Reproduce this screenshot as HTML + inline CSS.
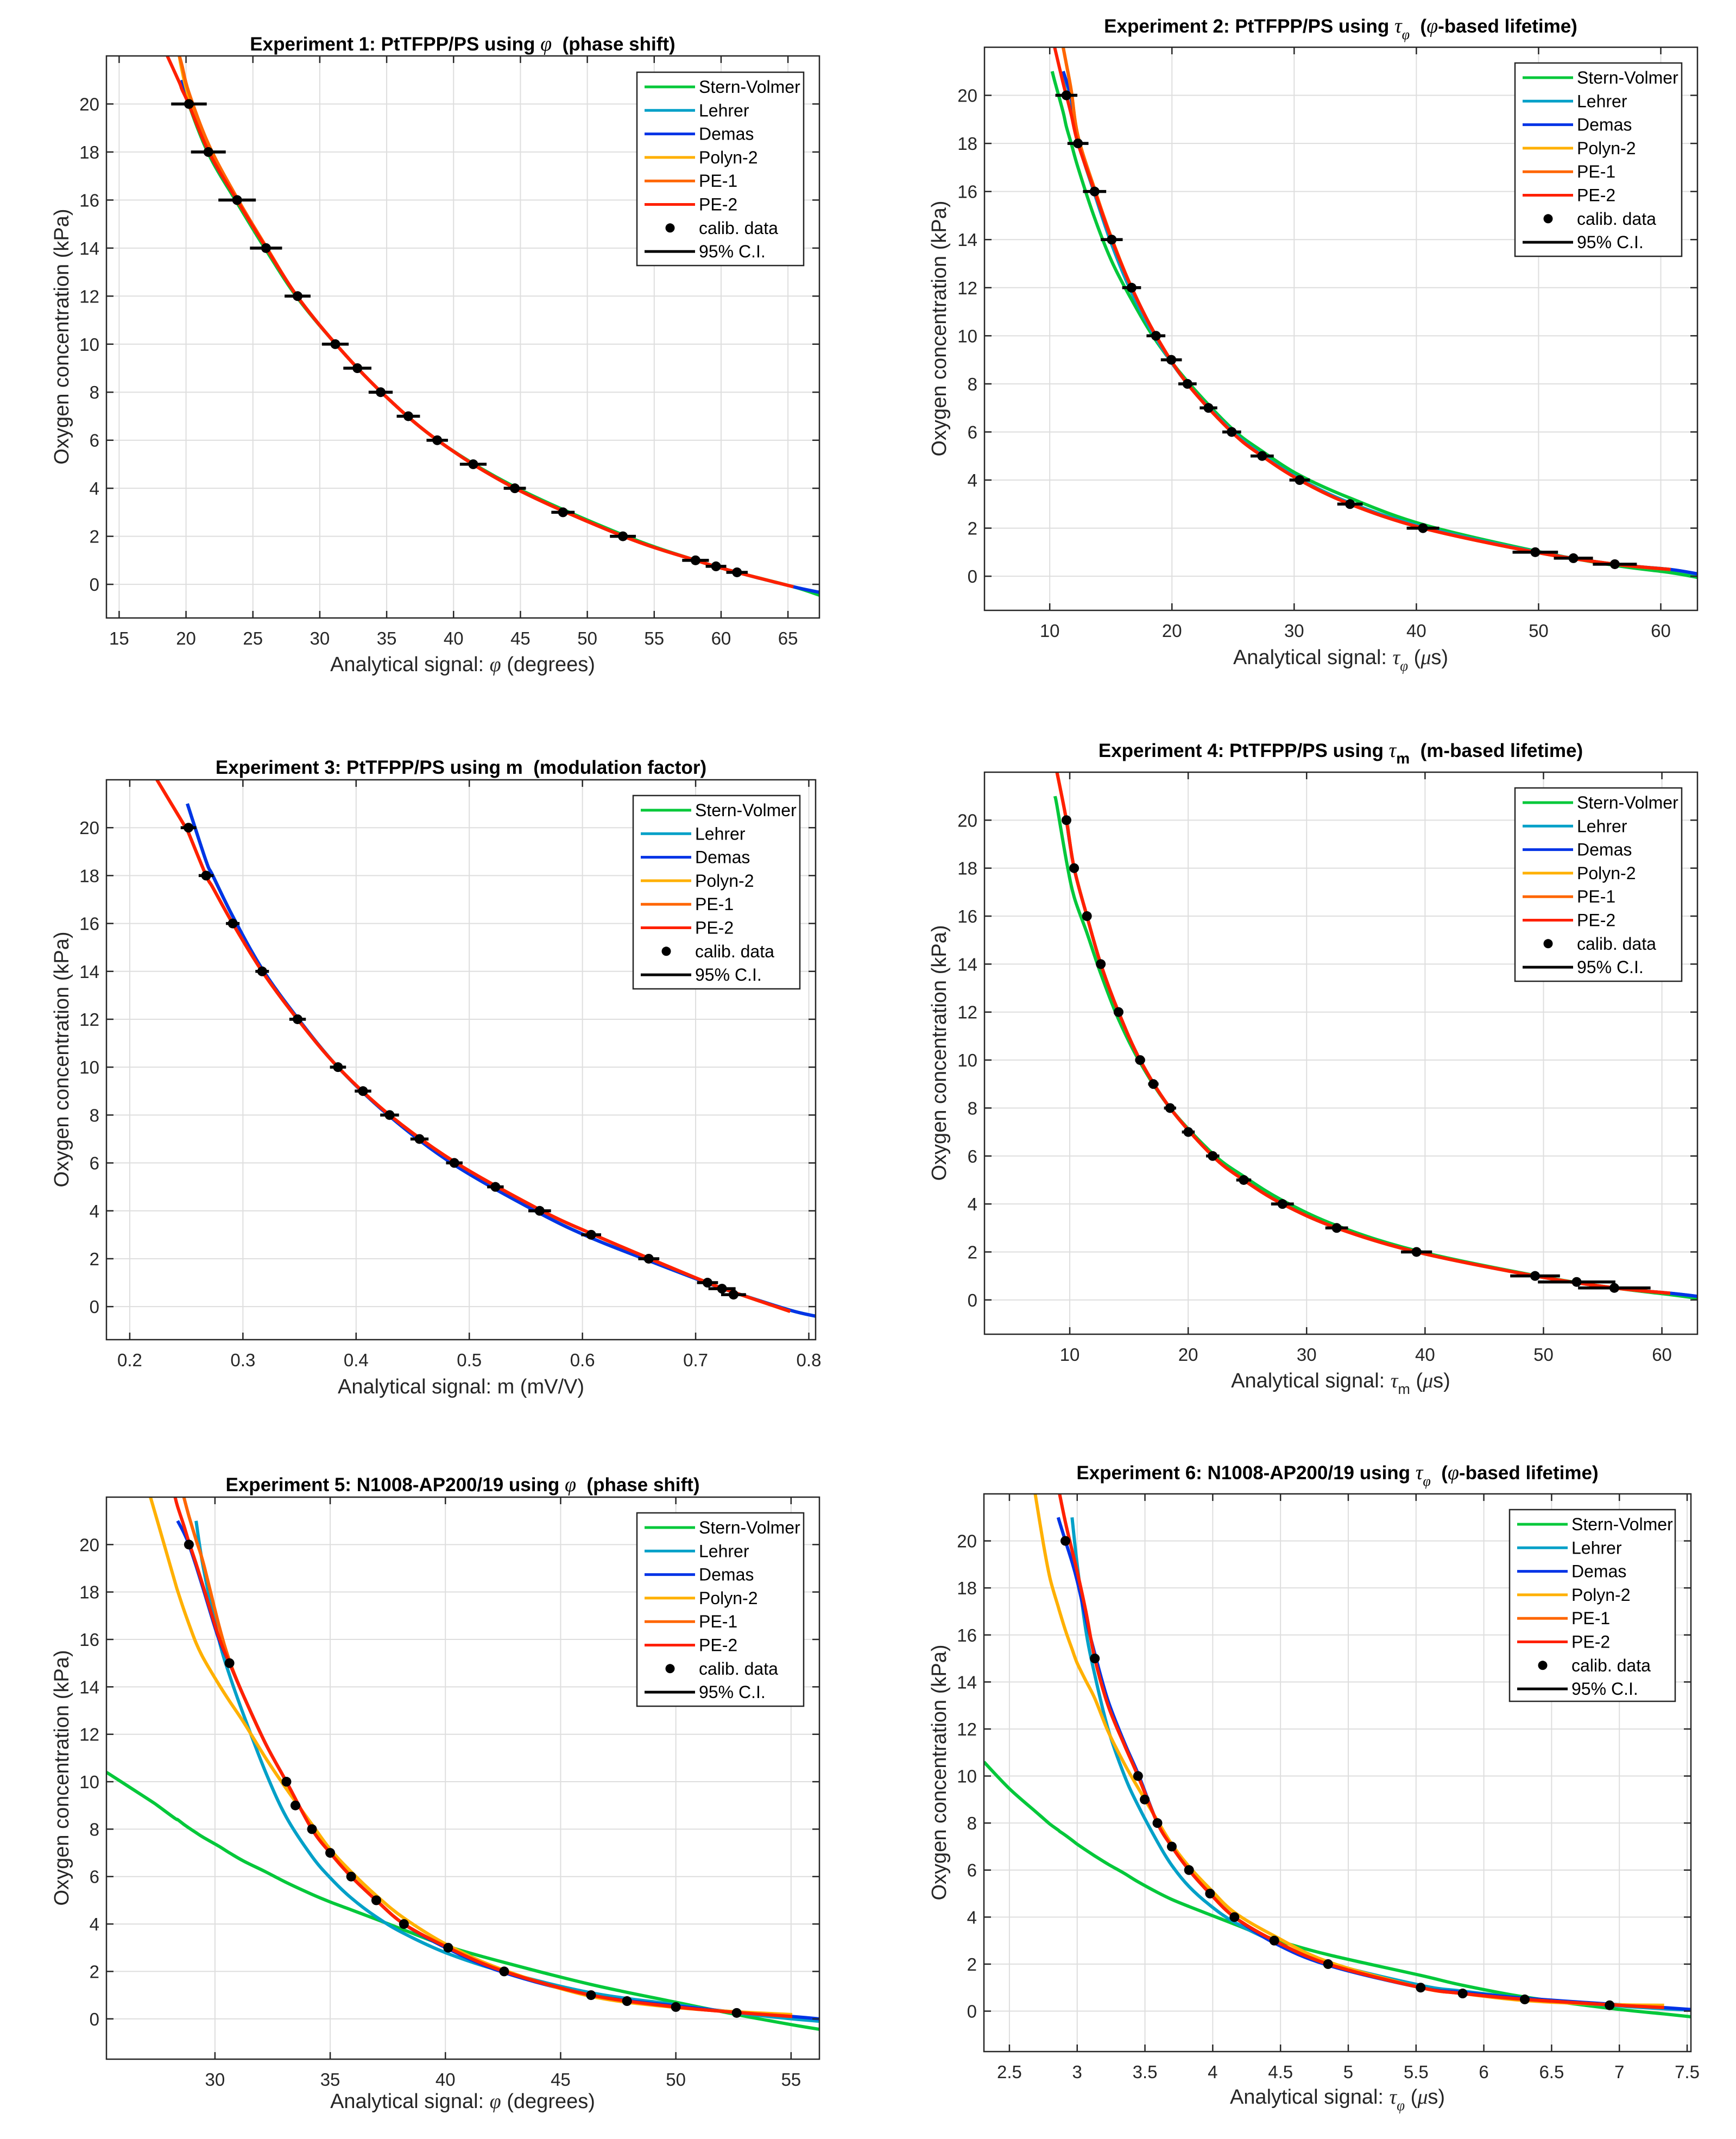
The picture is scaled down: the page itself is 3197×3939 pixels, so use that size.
<!DOCTYPE html>
<html><head><meta charset="utf-8"><title>Oxygen calibration experiments</title>
<style>
html,body{margin:0;padding:0;background:#fff;}
svg{display:block;}
.ttl{font-family:"Liberation Sans",sans-serif;font-weight:bold;font-size:35px;fill:#000;}
.axl{font-family:"Liberation Sans",sans-serif;font-size:38px;fill:#262626;}
.gk{font-family:"Liberation Serif",serif;font-style:italic;}
.lg{font-family:"Liberation Sans",sans-serif;font-size:32px;fill:#000;}
.tk{font-family:"Liberation Sans",sans-serif;font-size:33px;fill:#262626;}
</style></head>
<body>
<svg id="fig" xmlns="http://www.w3.org/2000/svg" width="3197" height="3939" viewBox="0 0 3197 3939">
<rect x="0" y="0" width="3197" height="3939" fill="#fff"/>

<!-- Titles -->
<text class="ttl" x="852" y="93" text-anchor="middle" xml:space="preserve">Experiment 1: PtTFPP/PS using <tspan class="gk" font-weight="normal" font-size="38">φ</tspan>  (phase shift)</text>
<text class="ttl" x="2469" y="60" text-anchor="middle" xml:space="preserve">Experiment 2: PtTFPP/PS using <tspan class="gk" font-weight="normal" font-size="38">τ</tspan><tspan class="gk" font-weight="normal" font-size="26" dy="12">φ</tspan><tspan dy="-12">  (</tspan><tspan class="gk" font-weight="normal" font-size="38">φ</tspan>-based lifetime)</text>
<text class="ttl" x="849" y="1425" text-anchor="middle" xml:space="preserve">Experiment 3: PtTFPP/PS using m  (modulation factor)</text>
<text class="ttl" x="2469" y="1394" text-anchor="middle" xml:space="preserve">Experiment 4: PtTFPP/PS using <tspan class="gk" font-weight="normal" font-size="38">τ</tspan><tspan font-size="28" dy="12">m</tspan><tspan dy="-12">  (m-based lifetime)</tspan></text>
<text class="ttl" x="852" y="2746" text-anchor="middle" xml:space="preserve">Experiment 5: N1008-AP200/19 using <tspan class="gk" font-weight="normal" font-size="38">φ</tspan>  (phase shift)</text>
<text class="ttl" x="2463" y="2724" text-anchor="middle" xml:space="preserve">Experiment 6: N1008-AP200/19 using <tspan class="gk" font-weight="normal" font-size="38">τ</tspan><tspan class="gk" font-weight="normal" font-size="26" dy="12">φ</tspan><tspan dy="-12">  (</tspan><tspan class="gk" font-weight="normal" font-size="38">φ</tspan>-based lifetime)</text>

<!-- X axis labels -->
<text class="axl" x="852" y="1236" text-anchor="middle">Analytical signal: <tspan class="gk">φ</tspan> (degrees)</text>
<text class="axl" x="2469" y="1223" text-anchor="middle">Analytical signal: <tspan class="gk">τ</tspan><tspan class="gk" font-size="27" dy="12">φ</tspan><tspan dy="-12"> (</tspan><tspan class="gk">μ</tspan>s)</text>
<text class="axl" x="849" y="2566" text-anchor="middle">Analytical signal: m (mV/V)</text>
<text class="axl" x="2469" y="2555" text-anchor="middle">Analytical signal: <tspan class="gk">τ</tspan><tspan font-size="27" dy="12">m</tspan><tspan dy="-12"> (</tspan><tspan class="gk">μ</tspan>s)</text>
<text class="axl" x="852" y="3882" text-anchor="middle">Analytical signal: <tspan class="gk">φ</tspan> (degrees)</text>
<text class="axl" x="2463" y="3874" text-anchor="middle">Analytical signal: <tspan class="gk">τ</tspan><tspan class="gk" font-size="27" dy="12">φ</tspan><tspan dy="-12"> (</tspan><tspan class="gk">μ</tspan>s)</text>

<!-- Y axis labels -->
<text class="axl" transform="translate(126,620) rotate(-90)" text-anchor="middle">Oxygen concentration (kPa)</text>
<text class="axl" transform="translate(1742,605) rotate(-90)" text-anchor="middle">Oxygen concentration (kPa)</text>
<text class="axl" transform="translate(126,1951) rotate(-90)" text-anchor="middle">Oxygen concentration (kPa)</text>
<text class="axl" transform="translate(1742,1939) rotate(-90)" text-anchor="middle">Oxygen concentration (kPa)</text>
<text class="axl" transform="translate(126,3274) rotate(-90)" text-anchor="middle">Oxygen concentration (kPa)</text>
<text class="axl" transform="translate(1742,3264) rotate(-90)" text-anchor="middle">Oxygen concentration (kPa)</text>

<g id="plots"></g>

<!-- Legends -->
<g id="legend1" transform="translate(1173,133)">
<rect x="0" y="0" width="307" height="356" fill="#fff" stroke="#262626" stroke-width="2.5"/>
<line x1="14" x2="107" y1="27" y2="27" stroke="#03c83a" stroke-width="5"/><text class="lg" x="114" y="38">Stern-Volmer</text>
<line x1="14" x2="107" y1="70.3" y2="70.3" stroke="#00a0c8" stroke-width="5"/><text class="lg" x="114" y="81.3">Lehrer</text>
<line x1="14" x2="107" y1="113.6" y2="113.6" stroke="#0033e6" stroke-width="5"/><text class="lg" x="114" y="124.6">Demas</text>
<line x1="14" x2="107" y1="156.9" y2="156.9" stroke="#ffb000" stroke-width="5"/><text class="lg" x="114" y="167.9">Polyn-2</text>
<line x1="14" x2="107" y1="200.2" y2="200.2" stroke="#ff6600" stroke-width="5"/><text class="lg" x="114" y="211.2">PE-1</text>
<line x1="14" x2="107" y1="243.5" y2="243.5" stroke="#ff2000" stroke-width="5"/><text class="lg" x="114" y="254.5">PE-2</text>
<circle cx="61" cy="286.8" r="8.5" fill="#000"/><text class="lg" x="114" y="297.8">calib. data</text>
<line x1="14" x2="107" y1="330.1" y2="330.1" stroke="#000" stroke-width="5"/><text class="lg" x="114" y="341.1">95% C.I.</text>
</g>
<g id="legend2" transform="translate(2790,116)">
<rect x="0" y="0" width="307" height="356" fill="#fff" stroke="#262626" stroke-width="2.5"/>
<line x1="14" x2="107" y1="27" y2="27" stroke="#03c83a" stroke-width="5"/><text class="lg" x="114" y="38">Stern-Volmer</text>
<line x1="14" x2="107" y1="70.3" y2="70.3" stroke="#00a0c8" stroke-width="5"/><text class="lg" x="114" y="81.3">Lehrer</text>
<line x1="14" x2="107" y1="113.6" y2="113.6" stroke="#0033e6" stroke-width="5"/><text class="lg" x="114" y="124.6">Demas</text>
<line x1="14" x2="107" y1="156.9" y2="156.9" stroke="#ffb000" stroke-width="5"/><text class="lg" x="114" y="167.9">Polyn-2</text>
<line x1="14" x2="107" y1="200.2" y2="200.2" stroke="#ff6600" stroke-width="5"/><text class="lg" x="114" y="211.2">PE-1</text>
<line x1="14" x2="107" y1="243.5" y2="243.5" stroke="#ff2000" stroke-width="5"/><text class="lg" x="114" y="254.5">PE-2</text>
<circle cx="61" cy="286.8" r="8.5" fill="#000"/><text class="lg" x="114" y="297.8">calib. data</text>
<line x1="14" x2="107" y1="330.1" y2="330.1" stroke="#000" stroke-width="5"/><text class="lg" x="114" y="341.1">95% C.I.</text>
</g>
<g id="legend3" transform="translate(1166,1465)">
<rect x="0" y="0" width="307" height="356" fill="#fff" stroke="#262626" stroke-width="2.5"/>
<line x1="14" x2="107" y1="27" y2="27" stroke="#03c83a" stroke-width="5"/><text class="lg" x="114" y="38">Stern-Volmer</text>
<line x1="14" x2="107" y1="70.3" y2="70.3" stroke="#00a0c8" stroke-width="5"/><text class="lg" x="114" y="81.3">Lehrer</text>
<line x1="14" x2="107" y1="113.6" y2="113.6" stroke="#0033e6" stroke-width="5"/><text class="lg" x="114" y="124.6">Demas</text>
<line x1="14" x2="107" y1="156.9" y2="156.9" stroke="#ffb000" stroke-width="5"/><text class="lg" x="114" y="167.9">Polyn-2</text>
<line x1="14" x2="107" y1="200.2" y2="200.2" stroke="#ff6600" stroke-width="5"/><text class="lg" x="114" y="211.2">PE-1</text>
<line x1="14" x2="107" y1="243.5" y2="243.5" stroke="#ff2000" stroke-width="5"/><text class="lg" x="114" y="254.5">PE-2</text>
<circle cx="61" cy="286.8" r="8.5" fill="#000"/><text class="lg" x="114" y="297.8">calib. data</text>
<line x1="14" x2="107" y1="330.1" y2="330.1" stroke="#000" stroke-width="5"/><text class="lg" x="114" y="341.1">95% C.I.</text>
</g>
<g id="legend4" transform="translate(2790,1451)">
<rect x="0" y="0" width="307" height="356" fill="#fff" stroke="#262626" stroke-width="2.5"/>
<line x1="14" x2="107" y1="27" y2="27" stroke="#03c83a" stroke-width="5"/><text class="lg" x="114" y="38">Stern-Volmer</text>
<line x1="14" x2="107" y1="70.3" y2="70.3" stroke="#00a0c8" stroke-width="5"/><text class="lg" x="114" y="81.3">Lehrer</text>
<line x1="14" x2="107" y1="113.6" y2="113.6" stroke="#0033e6" stroke-width="5"/><text class="lg" x="114" y="124.6">Demas</text>
<line x1="14" x2="107" y1="156.9" y2="156.9" stroke="#ffb000" stroke-width="5"/><text class="lg" x="114" y="167.9">Polyn-2</text>
<line x1="14" x2="107" y1="200.2" y2="200.2" stroke="#ff6600" stroke-width="5"/><text class="lg" x="114" y="211.2">PE-1</text>
<line x1="14" x2="107" y1="243.5" y2="243.5" stroke="#ff2000" stroke-width="5"/><text class="lg" x="114" y="254.5">PE-2</text>
<circle cx="61" cy="286.8" r="8.5" fill="#000"/><text class="lg" x="114" y="297.8">calib. data</text>
<line x1="14" x2="107" y1="330.1" y2="330.1" stroke="#000" stroke-width="5"/><text class="lg" x="114" y="341.1">95% C.I.</text>
</g>
<g id="legend5" transform="translate(1173,2786)">
<rect x="0" y="0" width="307" height="356" fill="#fff" stroke="#262626" stroke-width="2.5"/>
<line x1="14" x2="107" y1="27" y2="27" stroke="#03c83a" stroke-width="5"/><text class="lg" x="114" y="38">Stern-Volmer</text>
<line x1="14" x2="107" y1="70.3" y2="70.3" stroke="#00a0c8" stroke-width="5"/><text class="lg" x="114" y="81.3">Lehrer</text>
<line x1="14" x2="107" y1="113.6" y2="113.6" stroke="#0033e6" stroke-width="5"/><text class="lg" x="114" y="124.6">Demas</text>
<line x1="14" x2="107" y1="156.9" y2="156.9" stroke="#ffb000" stroke-width="5"/><text class="lg" x="114" y="167.9">Polyn-2</text>
<line x1="14" x2="107" y1="200.2" y2="200.2" stroke="#ff6600" stroke-width="5"/><text class="lg" x="114" y="211.2">PE-1</text>
<line x1="14" x2="107" y1="243.5" y2="243.5" stroke="#ff2000" stroke-width="5"/><text class="lg" x="114" y="254.5">PE-2</text>
<circle cx="61" cy="286.8" r="8.5" fill="#000"/><text class="lg" x="114" y="297.8">calib. data</text>
<line x1="14" x2="107" y1="330.1" y2="330.1" stroke="#000" stroke-width="5"/><text class="lg" x="114" y="341.1">95% C.I.</text>
</g>
<g id="legend6" transform="translate(2780,2780)">
<rect x="0" y="0" width="305" height="353" fill="#fff" stroke="#262626" stroke-width="2.5"/>
<line x1="14" x2="107" y1="27" y2="27" stroke="#03c83a" stroke-width="5"/><text class="lg" x="114" y="38">Stern-Volmer</text>
<line x1="14" x2="107" y1="70.3" y2="70.3" stroke="#00a0c8" stroke-width="5"/><text class="lg" x="114" y="81.3">Lehrer</text>
<line x1="14" x2="107" y1="113.6" y2="113.6" stroke="#0033e6" stroke-width="5"/><text class="lg" x="114" y="124.6">Demas</text>
<line x1="14" x2="107" y1="156.9" y2="156.9" stroke="#ffb000" stroke-width="5"/><text class="lg" x="114" y="167.9">Polyn-2</text>
<line x1="14" x2="107" y1="200.2" y2="200.2" stroke="#ff6600" stroke-width="5"/><text class="lg" x="114" y="211.2">PE-1</text>
<line x1="14" x2="107" y1="243.5" y2="243.5" stroke="#ff2000" stroke-width="5"/><text class="lg" x="114" y="254.5">PE-2</text>
<circle cx="61" cy="286.8" r="8.5" fill="#000"/><text class="lg" x="114" y="297.8">calib. data</text>
<line x1="14" x2="107" y1="330.1" y2="330.1" stroke="#000" stroke-width="5"/><text class="lg" x="114" y="341.1">95% C.I.</text>
</g>
</svg>

<script>
// ---------- shared tick data ----------
const yTickValues = [0,2,4,6,8,10,12,14,16,18,20];
const yTickLabels = ['0','2','4','6','8','10','12','14','16','18','20'];

// ---------- Experiment 1 ----------
const exp1Signal = [20.22,21.67,23.82,25.98,28.34,31.16,32.81,34.55,36.62,38.78,41.47,44.58,48.18,52.66,58.09,59.62,61.19];
const exp1O2 = [20,18,16,14,12,10,9,8,7,6,5,4,3,2,1,0.75,0.5];
const exp1CI = [1.33,1.3,1.4,1.2,0.97,1.0,1.05,0.9,0.87,0.8,1.0,0.83,0.87,0.97,1.0,0.77,0.8];
const exp1CurveX = [18.6,19.5,19.7,20.2,21.7,23.8,26,28.3,31.2,34.6,38.8,44.6,52.7,58.1,61.2,65.4,67.35];
const exp1SternVolmer = [null,null,21,20,17.9,15.9,13.9,11.95,10,8,6,4.05,2.05,1.0,0.5,-0.1,-0.45];
const exp1Lehrer = [null,null,21,20.1,18,16,14,12,10,8,6,4,2,1,0.5,-0.1,-0.33];
const exp1Demas = [null,null,21,20.1,18,16,14,12,10,8,6,4,2,1,0.5,-0.1,-0.33];
const exp1Polyn2 = [null,22,21.4,20.3,18.1,16,14,12,10,8,6,4,2,1,0.5,-0.1,null];
const exp1PE1 = [null,22,21.6,20.5,18.3,16.1,14.05,12,10,8,6,4,2,1,0.5,-0.1,null];
const exp1PE2 = [22,20.9,20.6,20,18,16,14,12,10,8,6,4,2,1,0.5,-0.1,null];
const exp1XTicks = [15,20,25,30,35,40,45,50,55,60,65];
const exp1XTickLabels = ['15','20','25','30','35','40','45','50','55','60','65'];

// ---------- Experiment 2 ----------
const exp2Signal = [11.36,12.31,13.67,15.07,16.70,18.69,19.95,21.27,22.99,24.89,27.38,30.45,34.57,40.54,49.73,52.85,56.24];
const exp2O2 = [20,18,16,14,12,10,9,8,7,6,5,4,3,2,1,0.75,0.5];
const exp2CI = [0.9,0.86,0.95,0.9,0.77,0.77,0.86,0.75,0.72,0.77,0.95,0.84,1.04,1.33,1.86,1.6,1.8];
const exp2CurveX = [10.2,10.4,11.1,11.36,11.76,12.31,13.67,15.07,16.7,18.69,21.27,24.89,27.38,30.45,34.57,40.54,49.73,56.24,60.8,63];
const exp2SternVolmer = [21,20.6,19.3,18.7,18,17.0,14.9,13.1,11.5,9.8,8.1,6.15,5.2,4.2,3.25,2.15,1.05,0.45,0.15,-0.05];
const exp2Lehrer = [null,null,21,20.5,19.8,18.1,15.9,13.8,11.8,9.9,8,6.05,5.05,4.05,3.05,2.05,1.02,0.5,0.28,0.08];
const exp2Demas = [null,null,21,20.6,19.9,18.2,16,14,12,10,8,6,5,4,3,2,1,0.5,0.28,0.1];
const exp2Polyn2 = [null,null,22,21.3,20.2,18.3,16.1,14.05,12,10,8,6,5,4,3,2,1,0.5,0.28,null];
const exp2PE1 = [null,null,22,21.3,20.2,18.3,16.1,14.05,12,10,8,6,5,4,3,2,1,0.5,0.28,null];
const exp2PE2 = [null,22,20.5,20,19.2,18,16,14,12,10,8,6,5,4,3,2,1,0.5,0.28,null];
const exp2XTicks = [10,20,30,40,50,60];
const exp2XTickLabels = ['10','20','30','40','50','60'];

// ---------- Experiment 3 ----------
const exp3Signal = [0.2519,0.2675,0.2910,0.3170,0.3483,0.3840,0.4061,0.4296,0.4560,0.4868,0.5231,0.5622,0.6077,0.6586,0.7105,0.7233,0.7335];
const exp3O2 = [20,18,16,14,12,10,9,8,7,6,5,4,3,2,1,0.75,0.5];
const exp3CI = [0.0069,0.0066,0.006,0.006,0.0073,0.0071,0.0073,0.0083,0.008,0.0073,0.0073,0.01,0.0088,0.0093,0.0093,0.012,0.011];
const exp3CurveX = [0.224,0.2495,0.2509,0.2675,0.2734,0.291,0.317,0.3483,0.384,0.4296,0.4868,0.5622,0.6077,0.6586,0.7105,0.7335,0.7835,0.806];
const exp3SternVolmer = [null,null,21,18.6,18,16.3,14.1,12.05,10,7.95,5.92,3.9,2.87,1.92,0.98,0.6,-0.15,-0.4];
const exp3Lehrer = [null,null,21,18.6,18,16.3,14.1,12.05,10,7.95,5.92,3.9,2.87,1.92,0.98,0.6,-0.15,-0.4];
const exp3Demas = [null,null,21,18.6,18,16.3,14.1,12.05,10,7.95,5.92,3.9,2.87,1.92,0.98,0.6,-0.15,-0.4];
const exp3Polyn2 = [22,20,19.9,18,17.5,16,14,12,10,8,6.05,4.05,3.05,2.02,1.0,0.6,-0.2,null];
const exp3PE1 = [22,20,19.9,18,17.5,16,14,12,10,8,6.05,4.05,3.05,2.02,1.0,0.6,-0.2,null];
const exp3PE2 = [22,20,19.9,18,17.5,16,14,12,10,8,6.05,4.05,3.05,2.02,1.0,0.6,-0.2,null];
const exp3XTicks = [0.2,0.3,0.4,0.5,0.6,0.7,0.8];
const exp3XTickLabels = ['0.2','0.3','0.4','0.5','0.6','0.7','0.8'];

// ---------- Experiment 4 ----------
const exp4Signal = [9.72,10.37,11.45,12.62,14.12,15.94,17.06,18.47,20.01,22.07,24.69,27.96,32.54,39.28,49.29,52.80,55.98];
const exp4O2 = [20,18,16,14,12,10,9,8,7,6,5,4,3,2,1,0.75,0.5];
const exp4CI = [0.3,0.3,0.3,0.3,0.4,0.42,0.44,0.51,0.54,0.56,0.63,0.96,0.96,1.31,2.1,3.27,3.06];
const exp4CurveX = [8.75,8.92,9.72,10.37,11.45,12.62,14.12,15.94,18.47,22.07,24.69,27.96,32.54,39.28,49.29,55.98,60.7,63];
const exp4SternVolmer = [21,20.6,18.3,16.8,15.3,13.6,11.7,9.9,8.0,6.1,5.15,4.15,3.1,2.05,1.02,0.5,0.22,0.07];
const exp4Lehrer = [null,null,20,18,16,14,12,10,8,6,5,4,3,2,1,0.5,0.28,0.15];
const exp4Demas = [null,null,20,18,16,14,12,10,8,6,5,4,3,2,1,0.5,0.28,0.15];
const exp4Polyn2 = [null,22,20,18,16,14,12,10,8,6,5,4,3,2,1,0.5,0.28,null];
const exp4PE1 = [null,22,20,18,16,14,12,10,8,6,5,4,3,2,1,0.5,0.28,null];
const exp4PE2 = [null,22,20,18,16,14,12,10,8,6,5,4,3,2,1,0.5,0.28,null];
const exp4XTicks = [10,20,30,40,50,60];
const exp4XTickLabels = ['10','20','30','40','50','60'];

// ---------- Experiment 5 ----------
const exp5Signal = [28.87,30.63,33.10,33.49,34.21,35.0,35.91,37.0,38.20,40.12,42.55,46.32,47.88,50.0,52.64];
const exp5O2 = [20,15,10,9,8,7,6,5,4,3,2,1,0.75,0.5,0.25];
const exp5CI = [0,0,0,0,0,0,0,0,0,0,0,0,0,0,0];
const exp5CurveX = [25.29,27.2,27.5,28.27,28.38,28.65,28.87,29.18,29.5,30.17,30.63,31.25,32.2,33.1,34.21,35.0,35.91,37.0,38.2,40.12,42.55,46.32,50,52.64,55.05,56.23];
const exp5SternVolmer = [10.4,9.2,9.0,8.45,8.4,8.2,8.05,7.85,7.65,7.28,7.0,6.65,6.2,5.75,5.25,4.93,4.6,4.2,3.75,3.05,2.38,1.45,0.7,0.18,-0.25,-0.44];
const exp5Lehrer = [null,null,null,null,null,null,null,21,19.0,16,14.5,12.8,10.4,8.5,6.85,5.95,5.1,4.3,3.6,2.75,1.98,1.1,0.6,0.25,0.0,-0.1];
const exp5Demas = [null,null,null,null,21,20.5,20,19.1,18.1,16.0,15,13.6,11.6,10,8,7,6,5,4,2.95,1.95,1.0,0.55,0.28,0.1,0.0];
const exp5Polyn2 = [null,22,21.0,18.4,18.05,17.25,16.65,15.85,15.2,14.1,13.4,12.5,11.0,9.7,8.2,7.15,6.2,5.2,4.25,3.1,2.05,0.95,0.48,0.3,0.18,null];
const exp5PE1 = [null,null,null,null,null,22,21.2,20.2,19.2,16.6,15.1,13.6,11.6,10,8,7,6,5,4,3.0,2.0,1.0,0.5,0.27,0.1,null];
const exp5PE2 = [null,null,null,22,21.6,20.8,20.1,19.2,18.2,16.1,15,13.6,11.6,10,8,7,6,5,4,3.0,2.0,1.0,0.5,0.27,0.1,null];
const exp5XTicks = [30,35,40,45,50,55];
const exp5XTickLabels = ['30','35','40','45','50','55'];

// ---------- Experiment 6 ----------
const exp6Signal = [2.913,3.130,3.449,3.498,3.592,3.698,3.825,3.980,4.160,4.454,4.851,5.534,5.844,6.302,6.928];
const exp6O2 = [20,15,10,9,8,7,6,5,4,3,2,1,0.75,0.5,0.25];
const exp6CI = [0,0,0,0,0,0,0,0,0,0,0,0,0,0,0];
const exp6CurveX = [2.312,2.5,2.69,2.75,2.8,2.86,2.87,2.913,2.962,3.0,3.064,3.13,3.228,3.35,3.449,3.592,3.698,3.825,3.98,4.16,4.454,4.851,5.534,5.844,6.302,6.928,7.33,7.528];
const exp6SternVolmer = [10.6,9.46,8.5,8.2,7.95,7.7,7.65,7.48,7.27,7.1,6.85,6.6,6.25,5.85,5.5,5.05,4.75,4.45,4.1,3.7,3.05,2.4,1.52,1.1,0.6,0.12,-0.12,-0.24];
const exp6Lehrer = [null,null,null,null,null,null,null,null,21,19.0,16.2,14.3,12.0,10.0,8.75,7.2,6.2,5.3,4.5,3.78,2.95,2.05,1.1,0.85,0.55,0.25,0.1,0.05];
const exp6Demas = [null,null,null,null,null,21,20.8,20,19.1,18.3,16.7,15.2,13.2,11.4,10.1,8.0,7.0,6.0,5.0,4.0,2.9,1.95,1.0,0.8,0.55,0.3,0.15,0.07];
const exp6Polyn2 = [null,null,22,19.9,18.4,17.2,17.0,16.2,15.4,14.8,14.05,13.3,11.9,10.5,9.5,8.1,7.1,6.15,5.2,4.2,3.2,2.1,1.0,0.75,0.45,0.28,0.25,null];
const exp6PE1 = [null,null,null,null,null,null,22,20.8,19.6,18.7,17.0,15.0,13.0,11.3,10.0,8,7,6,5,4,3,2,1,0.75,0.5,0.27,0.15,null];
const exp6PE2 = [null,null,null,null,null,null,22,20.8,19.6,18.7,17.0,15.0,13.0,11.3,10.0,8,7,6,5,4,3,2,1,0.75,0.5,0.27,0.15,null];
const exp6XTicks = [2.5,3,3.5,4,4.5,5,5.5,6,6.5,7,7.5];
const exp6XTickLabels = ['2.5','3','3.5','4','4.5','5','5.5','6','6.5','7','7.5'];

const seriesColors = ['#03c83a','#00a0c8','#0033e6','#ffb000','#ff6600','#ff2000'];
const seriesNames = ['stern-volmer','lehrer','demas','polyn-2','pe-1','pe-2'];

const NS = 'http://www.w3.org/2000/svg';
const root = document.getElementById('plots');

function mk(tag, parent) { const e = document.createElementNS(NS, tag); parent.appendChild(e); return e; }

function smoothPath(pts) {
  if (pts.length < 2) return '';
  let d = 'M' + pts[0][0].toFixed(1) + ',' + pts[0][1].toFixed(1);
  for (let i = 0; i < pts.length - 1; i++) {
    const p0 = pts[i - 1] || pts[i], p1 = pts[i], p2 = pts[i + 1], p3 = pts[i + 2] || pts[i + 1];
    const c1x = p1[0] + (p2[0] - p0[0]) / 6, c1y = p1[1] + (p2[1] - p0[1]) / 6;
    const c2x = p2[0] - (p3[0] - p1[0]) / 6, c2y = p2[1] - (p3[1] - p1[1]) / 6;
    d += 'C' + c1x.toFixed(1) + ',' + c1y.toFixed(1) + ' ' + c2x.toFixed(1) + ',' + c2y.toFixed(1) + ' ' + p2[0].toFixed(1) + ',' + p2[1].toFixed(1);
  }
  return d;
}

function drawPanel(p) {
  const L = p.box[0], R = p.box[1], T = p.box[2], B = p.box[3];
  const xs = v => L + (v - p.xlim[0]) / (p.xlim[1] - p.xlim[0]) * (R - L);
  const ys = v => B - (v - p.ylim[0]) / (p.ylim[1] - p.ylim[0]) * (B - T);
  const g = mk('g', root);
  
  

  const cp = mk('clipPath', g);
  cp.setAttribute('id', 'clip-' + p.id);
  const cr = mk('rect', cp);
  cr.setAttribute('x', L); cr.setAttribute('y', T); cr.setAttribute('width', R - L); cr.setAttribute('height', B - T);

  p.xticks.forEach(v => {
    const l = mk('line', g);
    l.setAttribute('x1', xs(v)); l.setAttribute('x2', xs(v)); l.setAttribute('y1', T); l.setAttribute('y2', B);
    l.setAttribute('stroke', '#dedede'); l.setAttribute('stroke-width', '2');
    
    
  });
  yTickValues.forEach(v => {
    const l = mk('line', g);
    l.setAttribute('x1', L); l.setAttribute('x2', R); l.setAttribute('y1', ys(v)); l.setAttribute('y2', ys(v));
    l.setAttribute('stroke', '#dedede'); l.setAttribute('stroke-width', '2');
    
    
  });

  const cg = mk('g', g);
  cg.setAttribute('clip-path', 'url(#clip-' + p.id + ')');
  
  
  p.curves.forEach((ys_, si) => {
    let segs = [], cur = [];
    p.curveX.forEach((xv, i) => {
      const yv = ys_[i];
      if (yv === null || yv === undefined) { if (cur.length) segs.push(cur); cur = []; }
      else cur.push([xs(xv), ys(yv)]);
    });
    if (cur.length) segs.push(cur);
    segs.forEach(s => {
      const path = mk('path', cg);
      path.setAttribute('d', smoothPath(s));
      path.setAttribute('fill', 'none');
      path.setAttribute('stroke', seriesColors[si]);
      path.setAttribute('stroke-width', '6');
      path.setAttribute('stroke-linejoin', 'round');
      
      
    });
  });

  p.signal.forEach((xv, i) => {
    const ci = p.ci[i];
    if (ci > 0) {
      const l = mk('line', g);
      l.setAttribute('x1', xs(xv - ci)); l.setAttribute('x2', xs(xv + ci));
      l.setAttribute('y1', ys(p.o2[i])); l.setAttribute('y2', ys(p.o2[i]));
      l.setAttribute('stroke', '#000'); l.setAttribute('stroke-width', '5.5');
      
      
    }
  });
  p.signal.forEach((xv, i) => {
    const c = mk('circle', g);
    c.setAttribute('cx', xs(xv)); c.setAttribute('cy', ys(p.o2[i])); c.setAttribute('r', '9');
    c.setAttribute('fill', '#000');
    
    
  });

  const bx = mk('rect', g);
  bx.setAttribute('x', L); bx.setAttribute('y', T); bx.setAttribute('width', R - L); bx.setAttribute('height', B - T);
  bx.setAttribute('fill', 'none'); bx.setAttribute('stroke', '#262626'); bx.setAttribute('stroke-width', '2.5');
  
  

  p.xticks.forEach((v, i) => {
    const x = xs(v);
    [[B, B - 13], [T, T + 13]].forEach(pr => {
      const t = mk('line', g);
      t.setAttribute('x1', x); t.setAttribute('x2', x); t.setAttribute('y1', pr[0]); t.setAttribute('y2', pr[1]);
      t.setAttribute('stroke', '#262626'); t.setAttribute('stroke-width', '2.5');
      
      
    });
    const tx = mk('text', g);
    tx.setAttribute('x', x); tx.setAttribute('y', B + 49); tx.setAttribute('text-anchor', 'middle');
    tx.setAttribute('class', 'tk');
    
    
    tx.textContent = p.xlabels[i];
  });
  yTickValues.forEach((v, i) => {
    const y = ys(v);
    [[L, L + 13], [R, R - 13]].forEach(pr => {
      const t = mk('line', g);
      t.setAttribute('x1', pr[0]); t.setAttribute('x2', pr[1]); t.setAttribute('y1', y); t.setAttribute('y2', y);
      t.setAttribute('stroke', '#262626'); t.setAttribute('stroke-width', '2.5');
      
      
    });
    const tx = mk('text', g);
    tx.setAttribute('x', L - 13); tx.setAttribute('y', y + 12); tx.setAttribute('text-anchor', 'end');
    tx.setAttribute('class', 'tk');
    
    
    tx.textContent = yTickLabels[i];
  });
}

drawPanel({id:'exp1', box:[196,1509,103,1138], xlim:[14.05,67.35], ylim:[-1.4,22], xticks:exp1XTicks, xlabels:exp1XTickLabels,
  signal:exp1Signal, o2:exp1O2, ci:exp1CI, curveX:exp1CurveX,
  curves:[exp1SternVolmer,exp1Lehrer,exp1Demas,exp1Polyn2,exp1PE1,exp1PE2]});
drawPanel({id:'exp2', box:[1813,3126,87,1124], xlim:[4.66,63], ylim:[-1.42,22], xticks:exp2XTicks, xlabels:exp2XTickLabels,
  signal:exp2Signal, o2:exp2O2, ci:exp2CI, curveX:exp2CurveX,
  curves:[exp2SternVolmer,exp2Lehrer,exp2Demas,exp2Polyn2,exp2PE1,exp2PE2]});
drawPanel({id:'exp3', box:[196,1502,1436,2467], xlim:[0.1794,0.806], ylim:[-1.38,22], xticks:exp3XTicks, xlabels:exp3XTickLabels,
  signal:exp3Signal, o2:exp3O2, ci:exp3CI, curveX:exp3CurveX,
  curves:[exp3SternVolmer,exp3Lehrer,exp3Demas,exp3Polyn2,exp3PE1,exp3PE2]});
drawPanel({id:'exp4', box:[1813,3126,1422,2457], xlim:[2.8,63], ylim:[-1.43,22], xticks:exp4XTicks, xlabels:exp4XTickLabels,
  signal:exp4Signal, o2:exp4O2, ci:exp4CI, curveX:exp4CurveX,
  curves:[exp4SternVolmer,exp4Lehrer,exp4Demas,exp4Polyn2,exp4PE1,exp4PE2]});
drawPanel({id:'exp5', box:[196,1509,2757,3792], xlim:[25.29,56.23], ylim:[-1.7,22], xticks:exp5XTicks, xlabels:exp5XTickLabels,
  signal:exp5Signal, o2:exp5O2, ci:exp5CI, curveX:exp5CurveX,
  curves:[exp5SternVolmer,exp5Lehrer,exp5Demas,exp5Polyn2,exp5PE1,exp5PE2]});
drawPanel({id:'exp6', box:[1812,3114,2751,3778], xlim:[2.312,7.528], ylim:[-1.72,22], xticks:exp6XTicks, xlabels:exp6XTickLabels,
  signal:exp6Signal, o2:exp6O2, ci:exp6CI, curveX:exp6CurveX,
  curves:[exp6SternVolmer,exp6Lehrer,exp6Demas,exp6Polyn2,exp6PE1,exp6PE2]});
</script>
</body></html>
